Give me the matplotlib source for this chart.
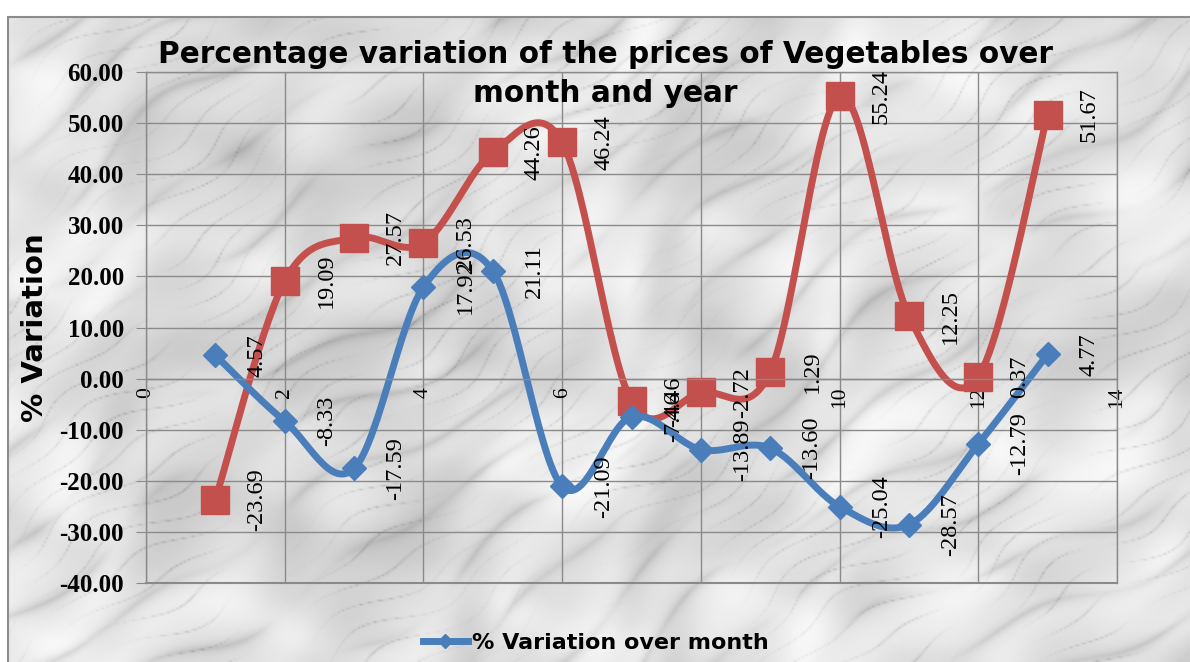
import numpy as np
import matplotlib.pyplot as plt
from matplotlib.lines import Line2D
from matplotlib.patches import Rectangle

# data
months = list(range(1, 14))
over_month = [4.57, -8.33, -17.59, 17.92, 21.11, -21.09, -7.46, -13.89, -13.60, -25.04, -28.57, -12.79, 4.77]
over_year = [-23.69, 19.09, 27.57, 26.53, 44.26, 46.24, -4.46, -2.72, 1.29, 55.24, 12.25, 0.37, 51.67]
x_ticks = [0, 2, 4, 6, 8, 10, 12, 14]
y_ticks = [-40, -30, -20, -10, 0, 10, 20, 30, 40, 50, 60]

title = "Percentage variation of the prices of Vegetables over\nmonth and year"
ylabel = "% Variation"
legend_label = "% Variation over month"

BLUE = "#4A7EBB"
RED = "#C4504D"
GRID = "#8a8a8a"


def smooth(xs, ys, n=30):
    # excel style smoothed line (catmull-rom as bezier)
    p = np.column_stack([xs, ys]).astype(float)
    pe = np.vstack([p[0], p, p[-1]])
    t = np.linspace(0, 1, n)[:, None]
    out = []
    for i in range(len(p) - 1):
        p0, p1, p2, p3 = pe[i], pe[i + 1], pe[i + 2], pe[i + 3]
        c1 = p1 + (p2 - p0) / 6
        c2 = p2 - (p3 - p1) / 6
        seg = (1 - t) ** 3 * p1 + 3 * (1 - t) ** 2 * t * c1 + 3 * (1 - t) * t ** 2 * c2 + t ** 3 * p2
        out.append(seg if i == 0 else seg[1:])
    out = np.vstack(out)
    return out[:, 0], out[:, 1]


def marble(h, w):
    # deterministic streaky marble texture for the chart area
    yy, xx = np.mgrid[0:h, 0:w] / 100.0
    u = 0.7 * xx + yy          # across the streaks
    s = xx - 0.7 * yy          # along the streaks
    turb = (0.8 * np.sin(1.1 * s + 0.9 * u + 0.4)
            + 0.5 * np.sin(2.3 * s - 1.9 * u + 1.9)
            + 0.3 * np.sin(4.7 * s + 3.3 * u + 2.7))
    turb2 = (0.6 * np.sin(3.7 * s + 2.2 * u + 0.3)
             + 0.4 * np.sin(7.9 * s - 5.1 * u + 2.2))
    broad = (1 - np.abs(np.sin(8.0 * u + 1.3 * turb))) ** 4
    thin = (1 - np.abs(np.sin(21.0 * u + 2.2 * turb2 + 0.7))) ** 14
    m1 = 0.5 + 0.5 * np.sin(2.6 * s + 1.5 * turb2)
    m2 = 0.5 + 0.5 * np.sin(4.1 * s - 2.0 * turb + 1.0)
    mottle = (0.04 * np.sin(3.0 * xx + 2.0 * turb) + 0.03 * np.sin(6.5 * yy - 1.5 * turb2)
              + 0.02 * np.sin(13.0 * xx + 9.0 * yy + 3.0 * turb))
    g = 0.88 + mottle - 0.12 * broad * m1 - 0.15 * thin * m2
    return np.clip(g, 0.55, 0.98)


fig = plt.figure(figsize=(11.9, 6.62), dpi=100)

# marble background + outer border
bg = fig.add_axes([8 / 1190, 0, 1 - 8 / 1190, 1 - 17 / 662], zorder=0)
bg.imshow(marble(331, 591), cmap="gray", vmin=0, vmax=1, aspect="auto", interpolation="bilinear")
bg.axis("off")
fig.patches.append(Rectangle((8 / 1190, -0.01), 1.0, 1 - 17 / 662 + 0.01, transform=fig.transFigure,
                             fill=False, edgecolor="#8c8c8c", lw=1.5))

ax = fig.add_axes([146 / 1190, 1 - 583 / 662, (1117 - 146) / 1190, (583 - 72) / 662], zorder=1)
ax.set_facecolor("none")
# category axis crosses at zero (set before the ticks, it resets them)
ax.spines["bottom"].set_position(("data", 0))

bx, by = smooth(months, over_month)
rx, ry = smooth(months, over_year)
ax.plot(rx, ry, color=RED, lw=5, solid_capstyle="round", zorder=2)
ax.plot(months, over_year, ls="none", marker="s", ms=19.5, color=RED, zorder=2)
ax.plot(bx, by, color=BLUE, lw=5, solid_capstyle="round", zorder=2.1)
ax.plot(months, over_month, ls="none", marker="D", ms=12.5, color=BLUE, zorder=2.1)

for x, v in zip(months, over_year):
    ax.annotate(f"{v:.2f}", (x, v), xytext=(30, 0), textcoords="offset points", rotation=90,
                ha="center", va="center", fontsize=17.5, family="Liberation Serif", zorder=3)
for x, v in zip(months, over_month):
    ax.annotate(f"{v:.2f}", (x, v), xytext=(30, 0), textcoords="offset points", rotation=90,
                ha="center", va="center", fontsize=17.5, family="Liberation Serif", zorder=3)

ax.set_xlim(0, 14)
ax.set_ylim(-40, 60)
ax.set_xticks(x_ticks)
ax.set_xticklabels([str(t) for t in x_ticks], rotation=90, fontsize=15.5, family="Liberation Serif")
ax.set_yticks(y_ticks)
ax.set_yticklabels([f"{t:.2f}" for t in y_ticks], fontsize=18, family="Liberation Serif", fontweight="bold")
ax.tick_params(axis="x", length=0, pad=6)
ax.tick_params(axis="y", length=7, color=GRID, pad=9)
ax.grid(True, color=GRID, lw=1)
ax.set_axisbelow(True)
for s in ax.spines.values():
    s.set_color(GRID)
    s.set_linewidth(1)
ax.axhline(-40, color=GRID, lw=1.5, clip_on=False)

fig.text(605 / 1190, 1 - 74 / 662, title, ha="center", va="center", fontsize=21.3, fontweight="bold",
         family="DejaVu Sans", linespacing=1.4)
fig.text(35 / 1190, 1 - 328 / 662, ylabel, rotation=90, ha="center", va="center", fontsize=21,
         fontweight="bold", family="DejaVu Sans")

handle = Line2D([], [], color=BLUE, lw=5, marker="D", ms=7)
fig.legend([handle], [legend_label], loc="center", bbox_to_anchor=(596 / 1190, 1 - 643 / 662),
           frameon=False, handlelength=2.0, handletextpad=0.2,
           prop={"family": "DejaVu Sans", "weight": "bold", "size": 16})

fig.savefig("out.png", dpi=100)
